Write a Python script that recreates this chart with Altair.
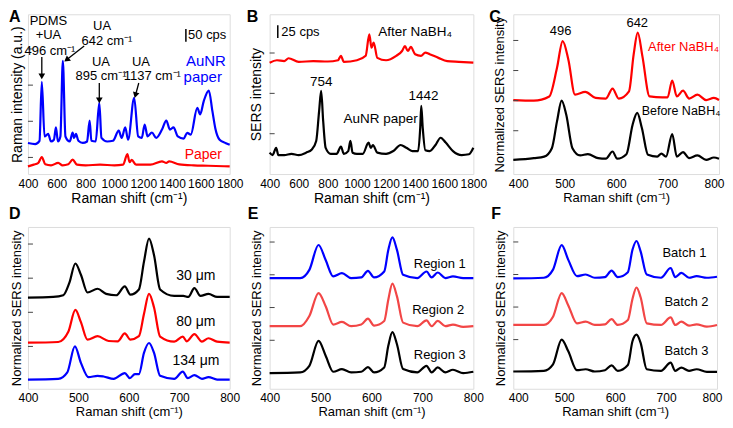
import altair as alt
import pandas as pd

XT = "Raman shift (cm\u207b\u00b9)"

# ---------------- Panel A ----------------
a_blue_x = [400, 450, 480, 496, 515, 540, 560, 580, 594, 608, 625, 642, 660, 690, 710, 720, 733, 750, 780, 810,
            828, 840, 870, 895, 910, 950, 990, 1030, 1050, 1075, 1095, 1137, 1165, 1190, 1210, 1230, 1260, 1290,
            1330, 1360, 1385, 1410, 1440, 1480, 1505, 1530, 1575, 1595, 1620, 1655, 1680, 1700, 1730, 1770, 1800]
a_blue_y = [0.40, 0.37, 0.46, 2.09, 0.58, 0.65, 0.44, 0.49, 0.83, 0.44, 0.58, 2.67, 0.58, 0.44, 0.69, 0.54, 0.65,
            0.46, 0.40, 0.44, 1.02, 0.46, 0.44, 1.51, 0.54, 0.44, 0.46, 0.74, 0.54, 0.83, 0.49, 1.65, 0.58, 0.54,
            0.91, 0.58, 0.69, 0.54, 0.77, 1.02, 0.77, 0.83, 0.58, 0.52, 0.68, 0.63, 1.37, 1.19, 1.56, 1.85, 1.28,
            0.81, 0.49, 0.40, 0.35]
a_red_x = [400, 440, 470, 496, 520, 560, 610, 640, 680, 710, 740, 800, 900, 1000, 1060, 1090, 1105, 1120, 1150,
           1250, 1330, 1360, 1380, 1450, 1550, 1650, 1800]
a_red_y = [-0.25, -0.20, -0.16, 0.01, -0.19, -0.22, -0.15, -0.22, -0.19, -0.06, -0.20, -0.22, -0.20, -0.22, -0.20,
           0.09, -0.13, -0.07, -0.20, -0.20, -0.11, -0.15, -0.11, -0.19, -0.22, -0.23, -0.25]
a_text = ["PDMS", "+UA", "496 cm\u207b\u00b9", "UA", "642 cm\u207b\u00b9", "UA", "895 cm\u207b\u00b9", "UA",
          "1137 cm\u207b\u00b9", "50 cps", "AuNR", "paper", "Paper"]
a_text_x = [542, 542, 553, 914, 948, 907, 907, 1184, 1263, 1644, 1635, 1613, 1617]
a_text_y = [3.78, 3.38, 2.94, 3.64, 3.22, 2.64, 2.25, 2.64, 2.25, 3.38, 2.67, 2.22, 0.07]
a_text_c = ["black"] * 10 + ["#0000ff", "#0000ff", "#ff0000"]
a_text_s = [13, 13, 13, 13, 13, 13, 13, 13, 13, 13, 15, 15, 14]
a_arrow_x = [496, 790, 895, 1169]
a_arrow_y = [2.78, 3.08, 2.06, 2.06]
a_arrow_x2 = [496, 668, 895, 1146]
a_arrow_y2 = [2.24, 2.70, 1.58, 1.72]
a_arrow_ang = [180, 232, 180, 195]
a_bar = [1496, 3.55, 3.20]

# ---------------- Panel B ----------------
b_black_x = [400, 420, 445, 460, 500, 550, 600, 650, 690, 720, 740, 754, 768, 785, 820, 860, 890, 910, 940, 955,
             970, 1000, 1040, 1080, 1095, 1110, 1140, 1200, 1250, 1300, 1340, 1380, 1420, 1435, 1442, 1452, 1470,
             1500, 1540, 1575, 1610, 1660, 1720, 1770, 1800]
b_black_y = [0.53, 0.47, 0.65, 0.47, 0.47, 0.50, 0.47, 0.53, 0.61, 0.82, 1.56, 2.06, 1.31, 0.65, 0.50, 0.50, 0.68,
             0.50, 0.57, 0.82, 0.53, 0.50, 0.50, 0.78, 0.65, 0.72, 0.53, 0.50, 0.57, 0.72, 0.65, 0.57, 0.57, 1.15,
             1.69, 1.15, 0.59, 0.57, 0.72, 0.90, 0.78, 0.57, 0.47, 0.49, 0.65]
b_red_x = [400, 450, 500, 530, 600, 700, 800, 870, 890, 910, 1000, 1060, 1085, 1100, 1115, 1140, 1200, 1270, 1310,
           1330, 1350, 1370, 1400, 1440, 1470, 1500, 1560, 1620, 1700, 1800]
b_red_y = [2.76, 2.82, 2.80, 2.87, 2.78, 2.80, 2.79, 2.82, 2.93, 2.78, 2.82, 2.93, 3.46, 3.13, 3.26, 2.88, 2.82,
           2.93, 3.05, 3.17, 3.05, 3.15, 2.97, 2.93, 3.01, 2.97, 2.88, 2.80, 2.78, 2.76]
b_text = ["25 cps", "After NaBH\u2084", "754", "AuNR paper", "1442"]
b_text_x = [612, 1400, 754, 1163, 1457]
b_text_y = [3.53, 3.53, 2.28, 1.36, 1.93]
b_text_c = ["black"] * 5
b_text_s = [13, 13.5, 13.5, 13.5, 13.5]
b_bar = [456, 3.69, 3.37]

# ---------------- Panel C ----------------
c_black_x = [400, 440, 460, 475, 485, 494, 503, 515, 530, 545, 565, 580, 593, 602, 620, 632, 641, 650, 662, 680,
             688, 697, 709, 718, 730, 742, 758, 775, 790, 800]
c_black_y = [0.03, 0.09, 0.14, 0.42, 1.31, 2.00, 1.53, 0.42, 0.18, 0.22, 0.09, 0.07, 0.31, 0.07, 0.22, 1.20, 1.59,
             1.09, 0.20, 0.14, 0.24, 0.14, 0.89, 0.14, 0.29, 0.09, 0.18, 0.03, 0.11, 0.07]
c_red_x = [400, 440, 470, 485, 496, 507, 520, 540, 560, 580, 593, 605, 625, 634, 642, 651, 665, 690, 700, 709, 718,
           730, 742, 758, 775, 790, 800]
c_red_y = [2.02, 2.00, 2.14, 3.09, 3.98, 3.37, 2.20, 2.29, 2.09, 2.07, 2.40, 2.07, 2.31, 3.53, 4.26, 3.48, 2.14,
           2.11, 2.11, 2.67, 2.14, 2.33, 2.07, 2.20, 2.02, 2.09, 2.02]
c_text = ["496", "642", "After NaBH\u2084", "Before NaBH\u2084"]
c_text_x = [492, 641, 731, 726]
c_text_y = [4.33, 4.59, 3.79, 1.64]
c_text_c = ["black", "black", "#ff0000", "black"]
c_text_s = [13, 13, 13, 12.5]

# ---------------- Panel D ----------------
d_x1 = [400, 450, 470, 482, 494, 505, 518, 538, 555, 575, 592, 603, 620, 630, 640, 650, 662, 690, 708, 718, 730,
        742, 758, 775, 800]
d_30 = [2.43, 2.45, 2.50, 2.86, 3.43, 3.10, 2.58, 2.69, 2.54, 2.50, 2.76, 2.52, 2.67, 3.48, 4.16, 3.67, 2.67, 2.48,
        2.48, 2.45, 2.71, 2.48, 2.54, 2.45, 2.45]
d_x2 = [400, 460, 480, 494, 505, 518, 538, 560, 578, 592, 603, 620, 630, 640, 650, 662, 690, 707, 715, 730, 745,
        758, 775, 800]
d_80 = [1.11, 1.13, 1.43, 2.07, 1.71, 1.20, 1.30, 1.16, 1.15, 1.38, 1.20, 1.30, 1.95, 2.54, 2.14, 1.29, 1.14, 1.29,
        1.15, 1.36, 1.14, 1.24, 1.14, 1.11]
d_x3 = [400, 460, 478, 493, 505, 520, 538, 550, 570, 592, 602, 612, 620, 630, 640, 650, 662, 690, 707, 717, 730,
        745, 758, 775, 800]
d_134 = [0.03, 0.05, 0.24, 1.00, 0.52, 0.10, 0.14, 0.12, 0.05, 0.22, 0.07, 0.19, 0.19, 0.81, 1.10, 0.81, 0.14, 0.05,
         0.26, 0.07, 0.16, 0.05, 0.10, 0.03, 0.03]
d_text = ["30 \u03bcm", "80 \u03bcm", "134 \u03bcm"]
d_text_x = [733, 733, 733]
d_text_y = [3.05, 1.71, 0.57]
d_text_c = ["black"] * 3
d_text_s = [14, 14, 14]

# ---------------- Panel E ----------------
e_x = [400, 460, 478, 496, 510, 525, 542, 560, 580, 593, 605, 625, 633, 641, 650, 662, 690, 708, 718, 730, 745,
       760, 780, 800]
e_r1 = [2.90, 2.90, 3.15, 3.91, 3.45, 2.95, 3.05, 2.90, 2.92, 3.12, 2.92, 3.10, 3.76, 4.14, 3.76, 3.00, 2.90, 3.10,
        2.92, 3.07, 2.90, 2.95, 2.90, 2.90]
e_r2 = [1.43, 1.43, 1.74, 2.44, 2.04, 1.48, 1.56, 1.43, 1.48, 1.66, 1.45, 1.59, 2.24, 2.73, 2.34, 1.54, 1.43, 1.61,
        1.43, 1.59, 1.43, 1.48, 1.41, 1.43]
e_r3 = [0.00, 0.02, 0.22, 0.98, 0.53, 0.04, 0.12, 0.02, 0.04, 0.18, 0.02, 0.17, 0.83, 1.25, 0.88, 0.12, 0.02, 0.22,
        0.02, 0.17, 0.02, 0.10, 0.00, 0.04]
e_text = ["Region 1", "Region 2", "Region 3"]
e_text_x = [734, 731, 734]
e_text_y = [3.33, 1.94, 0.56]
e_text_c = ["black"] * 3
e_text_s = [13, 13, 13]

# ---------------- Panel F ----------------
f_x = [400, 460, 478, 495, 508, 525, 542, 560, 580, 593, 605, 625, 634, 642, 650, 662, 690, 709, 718, 730, 745,
       760, 780, 800]
f_b1 = [2.88, 2.90, 3.15, 3.90, 3.45, 2.95, 3.00, 2.90, 2.92, 3.12, 2.92, 3.07, 3.76, 4.03, 3.71, 3.00, 2.90, 3.20,
        2.92, 3.05, 2.90, 2.95, 2.90, 2.93]
f_b2 = [1.45, 1.45, 1.70, 2.43, 2.05, 1.50, 1.55, 1.45, 1.47, 1.63, 1.45, 1.60, 2.25, 2.60, 2.30, 1.50, 1.45, 1.68,
        1.45, 1.55, 1.43, 1.47, 1.40, 1.45]
f_b3 = [0.02, 0.04, 0.24, 1.00, 0.64, 0.06, 0.09, 0.02, 0.06, 0.21, 0.04, 0.22, 0.95, 1.15, 0.90, 0.09, 0.04, 0.29,
        0.04, 0.14, 0.04, 0.09, 0.01, 0.01]
f_text = ["Batch 1", "Batch 2", "Batch 3"]
f_text_x = [736, 740, 740]
f_text_y = [3.66, 2.15, 0.66]
f_text_c = ["black"] * 3
f_text_s = [13, 13, 13]

BLUE = "#0000ff"
RED = "#ff0000"
LRED = "#f24646"
BLACK = "#000000"
FONT = "Liberation Sans"


def spectra_df(series):
    rows = []
    for name, xs, ys, col in series:
        for xv, yv in zip(xs, ys):
            rows.append({"x": xv, "y": yv, "s": name, "c": col})
    return pd.DataFrame(rows)


def panel(letter, ldx, ldy, series, texts, xdom, xvals, ydom, yticks, ytitle, w, h, tfs, ytp, extra_fn=None,
          flush=False):
    xs = alt.Scale(domain=xdom, nice=False, zero=False)
    ys = alt.Scale(domain=ydom, nice=False, zero=False)
    xkw = dict(values=xvals, title=XT, labelOverlap=False, ticks=False, domain=False,
               grid=False, labelFontSize=12, titleFontSize=tfs, labelPadding=4, titlePadding=2, format="d",
               labelColor="black", titleColor="black", titleFontWeight="normal", labelFont=FONT, titleFont=FONT)
    if flush:
        xkw.update(labelFlush=True, labelFlushOffset=5)
    else:
        xkw.update(labelFlush=False)
    xax = alt.Axis(**xkw)
    yax = alt.Axis(title=ytitle, labels=False, ticks=False, domain=False, grid=False, titleFontSize=tfs,
                   titlePadding=ytp, titleColor="black", titleFontWeight="normal", titleFont=FONT)

    def X(f):
        return alt.X(f, type="quantitative", scale=xs, axis=xax)

    def Y(f):
        return alt.Y(f, type="quantitative", scale=ys, axis=yax)

    line = alt.Chart(spectra_df(series)).mark_line(strokeWidth=2.2, strokeJoin="round", interpolate="monotone").encode(
        x=X("x"), y=Y("y"), color=alt.Color("c:N", scale=None), detail="s:N")
    tick = alt.Chart(pd.DataFrame({"y": yticks})).mark_rule(color="#444444", strokeWidth=1).encode(
        y=Y("y"), x=alt.value(0), x2=alt.value(5))
    t, tx, ty, tc, tsz = texts
    txt = alt.Chart(pd.DataFrame({"x": tx, "y": ty, "t": t, "c": tc, "sz": tsz})).mark_text(
        font=FONT, align="center", baseline="middle").encode(
        x=X("x"), y=Y("y"), text="t:N", color=alt.Color("c:N", scale=None), size=alt.Size("sz:Q", scale=None))
    lab = alt.Chart(pd.DataFrame({"t": [letter]})).mark_text(
        font=FONT, fontWeight="bold", fontSize=16, align="left", baseline="alphabetic").encode(
        text="t:N", x=alt.value(ldx), y=alt.value(ldy))
    layers = [line, tick, txt, lab]
    if extra_fn is not None:
        layers += extra_fn(X, Y)
    return alt.layer(*layers).properties(width=w, height=h)


def bar_layer(bar):
    def fn(X, Y):
        df = pd.DataFrame({"x": [bar[0]], "y": [bar[1]], "y2": [bar[2]]})
        return [alt.Chart(df).mark_rule(color="black", strokeWidth=1.5).encode(
            x=X("x"), y=Y("y"), y2="y2:Q")]
    return fn


def a_extra(X, Y):
    adf = pd.DataFrame({"x": a_arrow_x, "y": a_arrow_y, "x2": a_arrow_x2, "y2": a_arrow_y2, "ang": a_arrow_ang})
    shaft = alt.Chart(adf).mark_rule(color="black", strokeWidth=1.3).encode(
        x=X("x"), y=Y("y"), x2="x2:Q", y2="y2:Q")
    head = alt.Chart(adf).mark_point(shape="triangle-up", filled=True, color="black", size=45, opacity=1).encode(
        x=X("x2"), y=Y("y2"), angle=alt.Angle("ang:Q", scale=None))
    return [shaft, head] + bar_layer(a_bar)(X, Y)


XV_WIDE = [400, 600, 800, 1000, 1200, 1400, 1600, 1800]
XV_NARROW = [400, 500, 600, 700, 800]
NT = "Normalized SERS intensity"

pA = panel("A", -19, 8, [("paper", a_red_x, a_red_y, RED), ("aunr", a_blue_x, a_blue_y, BLUE)],
           (a_text, a_text_x, a_text_y, a_text_c, a_text_s), [400, 1800], XV_WIDE, [-0.46, 3.96], [0, 1, 2, 3],
           "Raman intensity (a.u.)", 202, 160, 14, 3, a_extra)
pB = panel("B", -23, 8, [("red", b_red_x, b_red_y, RED), ("black", b_black_x, b_black_y, BLACK)],
           (b_text, b_text_x, b_text_y, b_text_c, b_text_s), [400, 1800], XV_WIDE, [0, 3.96], [1, 2, 3],
           "SERS intensity", 204, 160, 14, 6, bar_layer(b_bar))
pC = panel("C", -24, 8, [("red", c_red_x, c_red_y, RED), ("black", c_black_x, c_black_y, BLACK)],
           (c_text, c_text_x, c_text_y, c_text_c, c_text_s), [400, 800], XV_NARROW, [-0.44, 4.87], [1, 2, 3, 4],
           NT, 206, 160, 13, 7, flush=True)
pD = panel("D", -19, -8, [("k", d_x1, d_30, BLACK), ("r", d_x2, d_80, RED), ("b", d_x3, d_134, BLUE)],
           (d_text, d_text_x, d_text_y, d_text_c, d_text_s), [400, 800], XV_NARROW, [-0.24, 4.5], [1, 2, 3, 4],
           NT, 202, 162, 13, 4)
pE = panel("E", -22, -8, [("b", e_x, e_r1, BLUE), ("r", e_x, e_r2, LRED), ("k", e_x, e_r3, BLACK)],
           (e_text, e_text_x, e_text_y, e_text_c, e_text_s), [400, 800], XV_NARROW, [-0.48, 4.46], [1, 2, 3, 4],
           NT, 204, 162, 13, 6)
pF = panel("F", -22, -8, [("b", f_x, f_b1, BLUE), ("r", f_x, f_b2, LRED), ("k", f_x, f_b3, BLACK)],
           (f_text, f_text_x, f_text_y, f_text_c, f_text_s), [400, 800], XV_NARROW, [-0.51, 4.46], [1, 2, 3, 4],
           NT, 204, 162, 13, 6, flush=True)

chart = alt.concat(pA, pB, pC, pD, pE, pF, columns=3, spacing={"row": 53, "column": 40},
                   bounds="flush").properties(padding=0).configure_view(
    stroke="#808080", strokeWidth=1.5).configure(font=FONT)

chart.save("out.html", embed_options={"renderer": "svg", "actions": False})
